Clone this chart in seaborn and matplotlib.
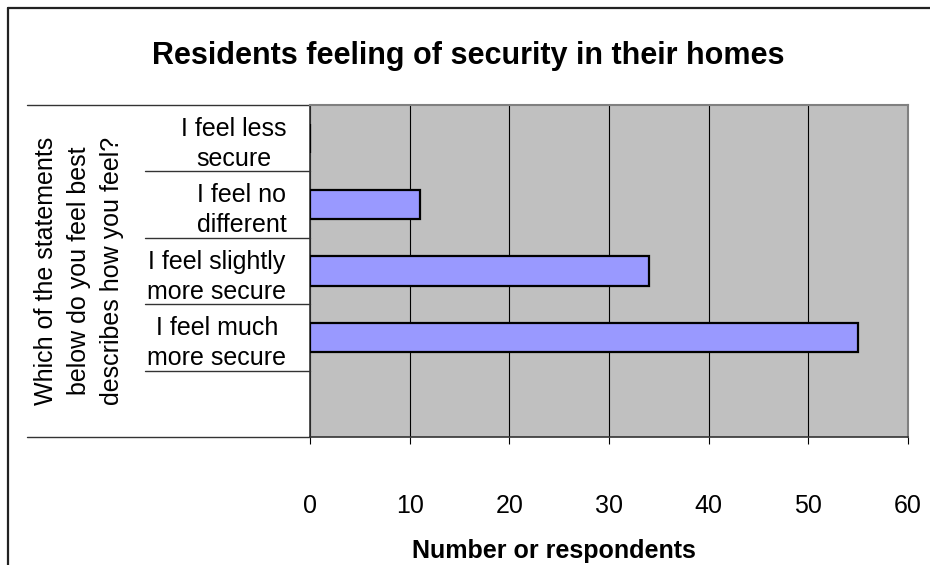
import numpy as np
import pandas as pd
import matplotlib
matplotlib.use("Agg")
import matplotlib.pyplot as plt
from matplotlib.lines import Line2D
import seaborn as sns

# ---- data ----
categories = ["I feel less\nsecure", "I feel no\ndifferent",
              "I feel slightly\nmore secure", "I feel much\nmore secure"]
values = [0, 11, 34, 55]
slot_order = categories + [""]          # Excel leaves an empty slot at the bottom
x_ticks = [0, 10, 20, 30, 40, 50, 60]
title = "Residents feeling of security in their homes"
x_label = "Number or respondents"
y_label = "Which of the statements\nbelow do you feel best\ndescribes how you feel?"

df = pd.DataFrame({"statement": categories, "count": values})

sns.set_theme(style="white")
plt.rcParams["font.family"] = ["Liberation Sans", "DejaVu Sans"]
plt.rcParams["text.color"] = "black"
plt.rcParams["xtick.color"] = "black"
plt.rcParams["ytick.color"] = "black"
plt.rcParams["xtick.labelcolor"] = "black"
plt.rcParams["ytick.labelcolor"] = "black"

W, H = 930, 565
fig = plt.figure(figsize=(W / 100, H / 100), dpi=100)
fig.patch.set_facecolor("white")

left, right, top, bottom = 310, 908, 105, 437
ax = fig.add_axes([left / W, 1 - bottom / H, (right - left) / W, (bottom - top) / H])
ax.set_facecolor("#C0C0C0")

sns.barplot(data=df, x="count", y="statement", order=slot_order, orient="h",
            color="#9999FF", saturation=1, width=0.44,
            edgecolor="black", linewidth=1.6, ax=ax, zorder=3)

ax.set_xlim(0, 60)
ax.set_ylim(4.5, -0.5)
ax.set_xticks(x_ticks)
ax.set_xticklabels([str(t) for t in x_ticks], fontsize=18, color="black")
ax.grid(axis="x", color="black", linewidth=0.8, zorder=1)
ax.set_axisbelow(True)
ax.tick_params(axis="x", direction="out", length=5, width=0.8, color="black",
               pad=36, bottom=True)
ax.tick_params(axis="y", length=0, pad=17, labelsize=18, labelcolor="black")
for lbl in ax.get_yticklabels():
    lbl.set_multialignment("center")
    lbl.set_linespacing(1.32)
ax.set_xlabel("")
ax.set_ylabel("")

for s in ["top", "right"]:
    ax.spines[s].set_color("#808080")
    ax.spines[s].set_linewidth(1.5)
for s in ["left", "bottom"]:
    ax.spines[s].set_color("#333333")
    ax.spines[s].set_linewidth(1.2)

# category separator lines of the Excel category axis
ytr = ax.get_yaxis_transform()
inner_x = (145 - left) / (right - left)
outer_x = (27 - left) / (right - left)
for b in [0.5, 1.5, 2.5, 3.5]:
    ax.add_line(Line2D([inner_x, 0], [b, b], transform=ytr, color="#333333",
                       linewidth=1.0, clip_on=False))
for b in [-0.5, 4.5]:
    ax.add_line(Line2D([outer_x, 0], [b, b], transform=ytr, color="#333333",
                       linewidth=1.0, clip_on=False))

# titles
fig.text(468 / W, 1 - 56 / H, title, ha="center", va="center",
         fontsize=22, fontweight="bold", color="black")
fig.text(554 / W, 1 - 551 / H, x_label, ha="center", va="center",
         fontsize=18, fontweight="bold", color="black")
fig.text(79 / W, 1 - 271 / H, y_label, ha="center", va="center",
         rotation=90, fontsize=18, multialignment="center", linespacing=1.45,
         color="black")

# chart-area border (left and top edges visible)
bx, by = 8 / W, 1 - 8 / H
fig.add_artist(Line2D([bx, bx], [0, by], transform=fig.transFigure,
                      color="#222222", linewidth=1.6))
fig.add_artist(Line2D([bx, 1], [by, by], transform=fig.transFigure,
                      color="#222222", linewidth=1.6))

fig.savefig("out.png", dpi=100, facecolor="white")
